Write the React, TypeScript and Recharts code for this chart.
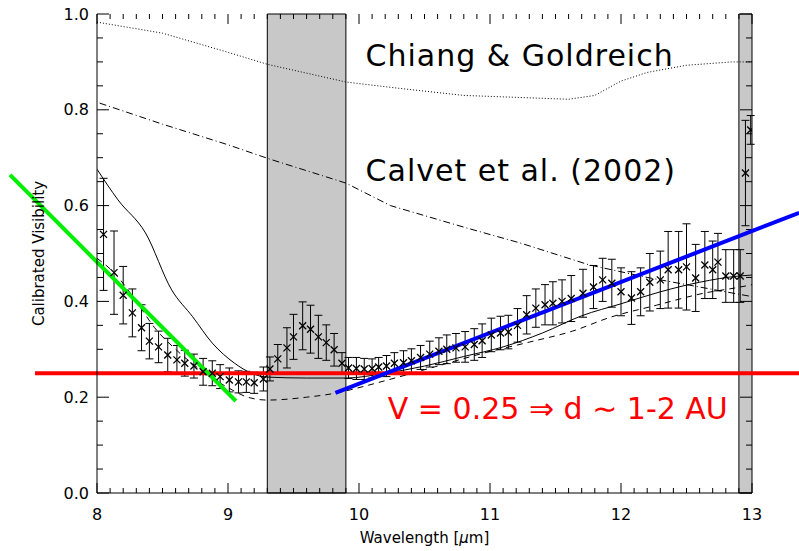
import {
  ComposedChart, Line, Scatter, ErrorBar, XAxis, YAxis,
  ReferenceArea, ReferenceLine, ReferenceDot,
} from 'recharts';

// measured visibilities (wavelength in µm, V, 1-sigma)
const wavelength = [
  8.05, 8.13, 8.2, 8.27, 8.34, 8.4, 8.47, 8.54, 8.61, 8.67, 8.74, 8.81, 8.88, 8.94, 9.01, 9.08, 9.14, 9.2, 9.27,
  9.32, 9.38, 9.45, 9.5, 9.57, 9.63, 9.69, 9.75, 9.81, 9.87, 9.92, 9.98, 10.04, 10.1, 10.15, 10.21, 10.27, 10.34,
  10.4, 10.47, 10.54, 10.61, 10.67, 10.74, 10.81, 10.88, 10.94, 11.01, 11.08, 11.14, 11.21, 11.28, 11.35, 11.42,
  11.48, 11.55, 11.62, 11.71, 11.79, 11.86, 11.93, 12.0, 12.08, 12.15, 12.22, 12.3, 12.36, 12.44, 12.5, 12.57,
  12.64, 12.7, 12.74, 12.8, 12.86, 12.91, 12.95, 12.99,
];
const visibility = [
  0.54, 0.46, 0.413, 0.376, 0.345, 0.317, 0.305, 0.288, 0.278, 0.271, 0.265, 0.253, 0.25, 0.243, 0.236, 0.232, 0.232, 0.23, 0.238,
  0.259, 0.28, 0.303, 0.326, 0.349, 0.342, 0.326, 0.314, 0.299, 0.271, 0.261, 0.26, 0.259, 0.26, 0.263, 0.265, 0.271, 0.272,
  0.276, 0.283, 0.29, 0.296, 0.3, 0.303, 0.305, 0.31, 0.318, 0.33, 0.334, 0.336, 0.35, 0.372, 0.386, 0.393,
  0.396, 0.4, 0.406, 0.417, 0.43, 0.445, 0.438, 0.42, 0.407, 0.42, 0.44, 0.445, 0.466, 0.466, 0.472, 0.449,
  0.476, 0.466, 0.482, 0.453, 0.453, 0.453, 0.668, 0.758,
];
const sigma = [
  0.117, 0.087, 0.06, 0.05, 0.048, 0.037, 0.033, 0.035, 0.03, 0.027, 0.025, 0.028, 0.026, 0.025, 0.025, 0.023, 0.022, 0.022, 0.025,
  0.025, 0.03, 0.042, 0.047, 0.05, 0.05, 0.045, 0.037, 0.034, 0.022, 0.022, 0.023, 0.022, 0.02, 0.02, 0.022, 0.022, 0.025,
  0.025, 0.025, 0.027, 0.028, 0.03, 0.03, 0.032, 0.033, 0.035, 0.035, 0.035, 0.035, 0.035, 0.04, 0.04, 0.042,
  0.045, 0.045, 0.048, 0.05, 0.045, 0.045, 0.05, 0.05, 0.055, 0.05, 0.06, 0.06, 0.08, 0.08, 0.09, 0.07,
  0.07, 0.06, 0.06, 0.055, 0.055, 0.055, 0.11, 0.03,
];

// model curves
const chiangX = [8.0, 8.5, 9.0, 9.3, 9.9, 10.3, 10.8, 11.2, 11.6, 11.8, 12.0, 12.2, 12.5, 12.85, 13.0];
const chiangV = [0.983, 0.96, 0.92, 0.895, 0.858, 0.845, 0.83, 0.826, 0.822, 0.83, 0.86, 0.878, 0.893, 0.9, 0.9];
const calvetX = [8.02, 8.5, 9.0, 9.32, 9.9, 10.24, 10.8, 11.23, 11.76, 12.2, 12.6, 13.0];
const calvetV = [0.814, 0.77, 0.727, 0.697, 0.647, 0.6, 0.555, 0.522, 0.476, 0.45, 0.43, 0.41];
const solidX = [8.0, 8.16, 8.37, 8.57, 8.73, 8.88, 9.05, 9.18, 9.3, 9.6, 9.9, 10.2, 10.5, 10.8, 11.1, 11.4, 11.7, 12.0, 12.3, 12.6, 12.9, 13.0];
const solidV = [0.676, 0.612, 0.543, 0.424, 0.368, 0.313, 0.271, 0.25, 0.242, 0.24, 0.24, 0.25, 0.265, 0.285, 0.305, 0.334, 0.37, 0.395, 0.42, 0.44, 0.453, 0.455];
const dashedX = [8.0, 8.13, 8.3, 8.44, 8.6, 8.8, 9.0, 9.15, 9.3, 9.6, 9.85, 10.0, 10.3, 10.6, 10.95, 11.3, 11.63, 11.92, 12.27, 12.63, 12.91, 13.0];
const dashedV = [0.49, 0.46, 0.4, 0.345, 0.3, 0.255, 0.22, 0.2, 0.194, 0.2, 0.21, 0.22, 0.242, 0.265, 0.292, 0.315, 0.338, 0.367, 0.392, 0.417, 0.43, 0.435];

// fits and threshold
const greenFit = [{ x: 7.336, y: 0.664 }, { x: 9.06, y: 0.192 }];
const blueFit = [{ x: 9.82, y: 0.209 }, { x: 13.36, y: 0.585 }];
const threshold = [{ x: 7.527, y: 0.25 }, { x: 13.36, y: 0.25 }];

// masked bands
const bands = [[9.3, 9.9], [12.9, 13.0]];

const xMajor = [8, 9, 10, 11, 12, 13];
const yMajor = [0, 0.2, 0.4, 0.6, 0.8, 1.0];
const xMinor = Array.from({ length: 51 }, (_, i) => +(8 + i * 0.1).toFixed(2));
const yMinor = Array.from({ length: 21 }, (_, i) => +(i * 0.05).toFixed(2));

const FONT = '"DejaVu Sans", sans-serif';

const points = wavelength.map((x, i) => ({ x, y: visibility[i], err: sigma[i] }));
const zip = (xs: number[], ys: number[]) => xs.map((x, i) => ({ x, y: ys[i] }));
const isMajor = (v: number, majors: number[]) => majors.some(m => Math.abs(m - v) < 1e-6);

// inward IDL-style ticks on both ends of a reference line
const VTicks = (len: number) => (p: any) => {
  const x = p.x1;
  const top = Math.min(p.y1, p.y2);
  const bot = Math.max(p.y1, p.y2);
  return <path d={`M${x},${bot}L${x},${bot - len}M${x},${top}L${x},${top + len}`} stroke="#000" strokeWidth={1} fill="none" />;
};
const HTicks = (len: number) => (p: any) => {
  const y = p.y1;
  const left = Math.min(p.x1, p.x2);
  const right = Math.max(p.x1, p.x2);
  return <path d={`M${left},${y}L${left + len},${y}M${right},${y}L${right - len},${y}`} stroke="#000" strokeWidth={1} fill="none" />;
};

const Cross = ({ cx, cy }: any) => (
  <path d={`M${cx - 3.5},${cy - 3.5}L${cx + 3.5},${cy + 3.5}M${cx - 3.5},${cy + 3.5}L${cx + 3.5},${cy - 3.5}`} stroke="#000" strokeWidth={1.3} />
);

const annot = { position: 'right' as const, offset: 0, fontSize: 30, fontFamily: FONT };

export default function App() {
  return (
    <div style={{ position: 'absolute', left: 0, top: 0, background: '#fff' }}>
      <ComposedChart width={799} height={551} margin={{ top: 14, right: 47, bottom: 0, left: 0 }}>
        <XAxis dataKey="x" type="number" domain={[8, 13]} allowDataOverflow ticks={xMajor} interval={0}
          tickLine={false} tickSize={0} tickMargin={16} height={58} stroke="#000"
          tick={{ fontSize: 16, fontFamily: FONT, fill: '#000' }}
          label={{
            content: ({ viewBox }: any) => (
              <text x={viewBox.x + viewBox.width / 2} y={viewBox.y + 50} textAnchor="middle" fontSize={15} fontFamily={FONT} fill="#000">
                Wavelength [<tspan fontStyle="italic">μ</tspan>m]
              </text>
            ),
          }} />
        <XAxis xAxisId="top" orientation="top" dataKey="x" type="number" domain={[8, 13]} allowDataOverflow
          tick={false} tickLine={false} height={0} stroke="#000" />
        <YAxis type="number" domain={[0, 1]} allowDataOverflow ticks={yMajor} interval={0}
          tickLine={false} tickSize={0} tickMargin={8} width={97} stroke="#000"
          tickFormatter={(v: number) => v.toFixed(1)}
          tick={{ fontSize: 16, fontFamily: FONT, fill: '#000' }}
          label={{
            content: ({ viewBox }: any) => {
              const cx = viewBox.x + 44;
              const cy = viewBox.y + viewBox.height / 2;
              return (
                <text x={cx} y={cy} transform={`rotate(-90, ${cx}, ${cy})`} textAnchor="middle" fontSize={15} fontFamily={FONT} fill="#000">
                  Calibrated Visibility
                </text>
              );
            },
          }} />
        <YAxis yAxisId="right" orientation="right" type="number" domain={[0, 1]} allowDataOverflow
          tick={false} tickLine={false} width={0} stroke="#000" />

        {bands.map(([a, b]) => (
          <ReferenceArea key={a} x1={a} x2={b} y1={0} y2={1} fill="#c8c8c8" fillOpacity={1} stroke="#000" strokeWidth={1} />
        ))}

        {xMinor.map(v => (
          <ReferenceLine key={`xt${v}`} x={v} shape={VTicks(isMajor(v, xMajor) ? 10 : 5)} />
        ))}
        {yMinor.map(v => (
          <ReferenceLine key={`yt${v}`} y={v} shape={HTicks(isMajor(v, yMajor) ? 12 : 6)} />
        ))}

        <Line data={zip(chiangX, chiangV)} dataKey="y" stroke="#000" strokeWidth={1} strokeDasharray="1 2" dot={false} isAnimationActive={false} />
        <Line data={zip(calvetX, calvetV)} dataKey="y" stroke="#000" strokeWidth={1} strokeDasharray="7 3 1 3" dot={false} isAnimationActive={false} />
        <Line data={zip(solidX, solidV)} dataKey="y" type="monotone" stroke="#000" strokeWidth={1} dot={false} isAnimationActive={false} />
        <Line data={zip(dashedX, dashedV)} dataKey="y" type="monotone" stroke="#000" strokeWidth={1} strokeDasharray="6 5" dot={false} isAnimationActive={false} />

        <Scatter data={points} dataKey="y" shape={<Cross />} isAnimationActive={false}>
          <ErrorBar dataKey="err" direction="y" width={4} stroke="#000" strokeWidth={1} />
        </Scatter>

        <ReferenceLine segment={threshold} stroke="#ff0000" strokeWidth={4} ifOverflow="visible" />
        <ReferenceLine segment={greenFit} stroke="#00ee00" strokeWidth={4} ifOverflow="visible" />
        <ReferenceLine segment={blueFit} stroke="#0000ff" strokeWidth={4} ifOverflow="visible" />

        <ReferenceDot x={10.05} y={0.914} r={0} fill="none" stroke="none"
          label={{ ...annot, value: 'Chiang & Goldreich', fill: '#000', letterSpacing: 1 }} />
        <ReferenceDot x={10.05} y={0.674} r={0} fill="none" stroke="none"
          label={{ ...annot, value: 'Calvet et al. (2002)', fill: '#000', letterSpacing: 1 }} />
        <ReferenceDot x={10.22} y={0.177} r={0} fill="none" stroke="none"
          label={{ ...annot, value: 'V = 0.25 ⇒ d ∼ 1-2 AU', fill: '#ff0000' }} />
      </ComposedChart>
    </div>
  );
}
